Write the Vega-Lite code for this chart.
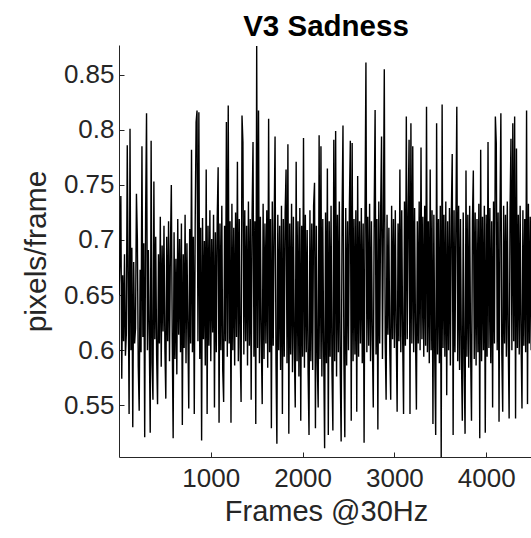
{
"$schema":"https://vega.github.io/schema/vega-lite/v6.json",
"autosize":{"type":"none"},
"padding":{"left":119,"top":45,"right":0,"bottom":81},
"width":414,"height":412,
"background":"white",
"view":{"stroke":null},
"title":{"text":"V3 Sadness","font":"Liberation Sans","fontSize":29.5,"fontWeight":"bold","color":"#000000","anchor":"middle","offset":3},
"data":{"values":[
{"f":0,"v":0.650},{"f":10,"v":0.680},{"f":20,"v":0.740},{"f":30,"v":0.574},{"f":40,"v":0.668},{"f":50,"v":0.608},{"f":60,"v":0.687},{"f":70,"v":0.595},{"f":80,"v":0.615},{"f":90,"v":0.786},
{"f":100,"v":0.665},{"f":110,"v":0.542},{"f":120,"v":0.801},{"f":130,"v":0.600},{"f":140,"v":0.693},{"f":150,"v":0.530},{"f":160,"v":0.680},{"f":170,"v":0.606},{"f":180,"v":0.620},{"f":190,"v":0.742},
{"f":200,"v":0.701},{"f":210,"v":0.585},{"f":220,"v":0.545},{"f":230,"v":0.673},{"f":240,"v":0.598},{"f":250,"v":0.785},{"f":260,"v":0.612},{"f":270,"v":0.697},{"f":280,"v":0.521},{"f":290,"v":0.723},
{"f":300,"v":0.815},{"f":310,"v":0.600},{"f":320,"v":0.691},{"f":330,"v":0.613},{"f":340,"v":0.525},{"f":350,"v":0.790},{"f":360,"v":0.588},{"f":370,"v":0.555},{"f":380,"v":0.753},{"f":390,"v":0.610},
{"f":400,"v":0.703},{"f":410,"v":0.595},{"f":420,"v":0.551},{"f":430,"v":0.687},{"f":440,"v":0.606},{"f":450,"v":0.721},{"f":460,"v":0.585},{"f":470,"v":0.695},{"f":480,"v":0.617},{"f":490,"v":0.713},
{"f":500,"v":0.602},{"f":510,"v":0.556},{"f":520,"v":0.703},{"f":530,"v":0.608},{"f":540,"v":0.717},{"f":550,"v":0.590},{"f":560,"v":0.691},{"f":570,"v":0.750},{"f":580,"v":0.610},{"f":590,"v":0.520},
{"f":600,"v":0.707},{"f":610,"v":0.592},{"f":620,"v":0.683},{"f":630,"v":0.578},{"f":640,"v":0.719},{"f":650,"v":0.614},{"f":660,"v":0.701},{"f":670,"v":0.598},{"f":680,"v":0.715},{"f":690,"v":0.532},
{"f":700,"v":0.687},{"f":710,"v":0.602},{"f":720,"v":0.723},{"f":730,"v":0.588},{"f":740,"v":0.697},{"f":750,"v":0.620},{"f":760,"v":0.547},{"f":770,"v":0.710},{"f":780,"v":0.606},{"f":790,"v":0.782},
{"f":800,"v":0.598},{"f":810,"v":0.703},{"f":820,"v":0.542},{"f":830,"v":0.715},{"f":840,"v":0.807},{"f":850,"v":0.8175},{"f":860,"v":0.608},{"f":870,"v":0.816},{"f":880,"v":0.592},{"f":890,"v":0.711},
{"f":900,"v":0.518},{"f":910,"v":0.720},{"f":920,"v":0.610},{"f":930,"v":0.699},{"f":940,"v":0.586},{"f":950,"v":0.764},{"f":960,"v":0.542},{"f":970,"v":0.713},{"f":980,"v":0.604},{"f":990,"v":0.727},
{"f":1000,"v":0.590},{"f":1010,"v":0.701},{"f":1020,"v":0.616},{"f":1030,"v":0.723},{"f":1040,"v":0.548},{"f":1050,"v":0.707},{"f":1060,"v":0.598},{"f":1070,"v":0.719},{"f":1080,"v":0.766},{"f":1090,"v":0.534},
{"f":1100,"v":0.715},{"f":1110,"v":0.600},{"f":1120,"v":0.731},{"f":1130,"v":0.582},{"f":1140,"v":0.553},{"f":1150,"v":0.713},{"f":1160,"v":0.608},{"f":1170,"v":0.807},{"f":1180,"v":0.594},{"f":1190,"v":0.822},
{"f":1200,"v":0.606},{"f":1210,"v":0.717},{"f":1220,"v":0.534},{"f":1230,"v":0.733},{"f":1240,"v":0.600},{"f":1250,"v":0.711},{"f":1260,"v":0.586},{"f":1270,"v":0.725},{"f":1280,"v":0.612},{"f":1290,"v":0.771},
{"f":1300,"v":0.590},{"f":1310,"v":0.719},{"f":1320,"v":0.602},{"f":1330,"v":0.553},{"f":1340,"v":0.813},{"f":1350,"v":0.789},{"f":1360,"v":0.596},{"f":1370,"v":0.727},{"f":1380,"v":0.608},{"f":1390,"v":0.713},
{"f":1400,"v":0.586},{"f":1410,"v":0.735},{"f":1420,"v":0.604},{"f":1430,"v":0.719},{"f":1440,"v":0.555},{"f":1450,"v":0.723},{"f":1460,"v":0.789},{"f":1470,"v":0.594},{"f":1480,"v":0.717},{"f":1490,"v":0.533},
{"f":1500,"v":0.876},{"f":1510,"v":0.602},{"f":1520,"v":0.8175},{"f":1530,"v":0.588},{"f":1540,"v":0.721},{"f":1550,"v":0.610},{"f":1560,"v":0.551},{"f":1570,"v":0.733},{"f":1580,"v":0.592},{"f":1590,"v":0.715},
{"f":1600,"v":0.606},{"f":1610,"v":0.727},{"f":1620,"v":0.584},{"f":1630,"v":0.810},{"f":1640,"v":0.598},{"f":1650,"v":0.719},{"f":1660,"v":0.529},{"f":1670,"v":0.735},{"f":1680,"v":0.604},{"f":1690,"v":0.711},
{"f":1700,"v":0.794},{"f":1710,"v":0.590},{"f":1720,"v":0.515},{"f":1730,"v":0.723},{"f":1740,"v":0.600},{"f":1750,"v":0.713},{"f":1760,"v":0.582},{"f":1770,"v":0.731},{"f":1780,"v":0.542},{"f":1790,"v":0.719},
{"f":1800,"v":0.594},{"f":1810,"v":0.725},{"f":1820,"v":0.764},{"f":1830,"v":0.588},{"f":1840,"v":0.787},{"f":1850,"v":0.524},{"f":1860,"v":0.715},{"f":1870,"v":0.596},{"f":1880,"v":0.733},{"f":1890,"v":0.580},
{"f":1900,"v":0.721},{"f":1910,"v":0.602},{"f":1920,"v":0.548},{"f":1930,"v":0.771},{"f":1940,"v":0.590},{"f":1950,"v":0.717},{"f":1960,"v":0.576},{"f":1970,"v":0.729},{"f":1980,"v":0.536},{"f":1990,"v":0.713},
{"f":2000,"v":0.594},{"f":2010,"v":0.7925},{"f":2020,"v":0.584},{"f":2030,"v":0.723},{"f":2040,"v":0.598},{"f":2050,"v":0.709},{"f":2060,"v":0.580},{"f":2070,"v":0.523},{"f":2080,"v":0.727},{"f":2090,"v":0.590},
{"f":2100,"v":0.715},{"f":2110,"v":0.582},{"f":2120,"v":0.731},{"f":2130,"v":0.752},{"f":2140,"v":0.529},{"f":2150,"v":0.713},{"f":2160,"v":0.588},{"f":2170,"v":0.548},{"f":2180,"v":0.795},{"f":2190,"v":0.592},
{"f":2200,"v":0.785},{"f":2210,"v":0.576},{"f":2220,"v":0.719},{"f":2230,"v":0.596},{"f":2240,"v":0.511},{"f":2250,"v":0.725},{"f":2260,"v":0.588},{"f":2270,"v":0.765},{"f":2280,"v":0.523},{"f":2290,"v":0.717},
{"f":2300,"v":0.594},{"f":2310,"v":0.731},{"f":2320,"v":0.582},{"f":2330,"v":0.527},{"f":2340,"v":0.791},{"f":2350,"v":0.590},{"f":2360,"v":0.799},{"f":2370,"v":0.576},{"f":2380,"v":0.723},{"f":2390,"v":0.598},
{"f":2400,"v":0.735},{"f":2410,"v":0.584},{"f":2420,"v":0.517},{"f":2430,"v":0.721},{"f":2440,"v":0.804},{"f":2450,"v":0.592},{"f":2460,"v":0.521},{"f":2470,"v":0.729},{"f":2480,"v":0.586},{"f":2490,"v":0.717},
{"f":2500,"v":0.600},{"f":2510,"v":0.733},{"f":2520,"v":0.790},{"f":2530,"v":0.536},{"f":2540,"v":0.788},{"f":2550,"v":0.590},{"f":2560,"v":0.719},{"f":2570,"v":0.596},{"f":2580,"v":0.727},{"f":2590,"v":0.544},
{"f":2600,"v":0.758},{"f":2610,"v":0.594},{"f":2620,"v":0.717},{"f":2630,"v":0.606},{"f":2640,"v":0.729},{"f":2650,"v":0.588},{"f":2660,"v":0.715},{"f":2670,"v":0.516},{"f":2680,"v":0.723},{"f":2690,"v":0.861},
{"f":2700,"v":0.598},{"f":2710,"v":0.721},{"f":2720,"v":0.604},{"f":2730,"v":0.733},{"f":2740,"v":0.590},{"f":2750,"v":0.717},{"f":2760,"v":0.608},{"f":2770,"v":0.548},{"f":2780,"v":0.725},{"f":2790,"v":0.818},
{"f":2800,"v":0.596},{"f":2810,"v":0.719},{"f":2820,"v":0.528},{"f":2830,"v":0.735},{"f":2840,"v":0.606},{"f":2850,"v":0.723},{"f":2860,"v":0.794},{"f":2870,"v":0.592},{"f":2880,"v":0.715},{"f":2890,"v":0.855},
{"f":2900,"v":0.608},{"f":2910,"v":0.555},{"f":2920,"v":0.723},{"f":2930,"v":0.614},{"f":2940,"v":0.711},{"f":2950,"v":0.600},{"f":2960,"v":0.555},{"f":2970,"v":0.731},{"f":2980,"v":0.610},{"f":2990,"v":0.719},
{"f":3000,"v":0.602},{"f":3010,"v":0.727},{"f":3020,"v":0.616},{"f":3030,"v":0.544},{"f":3040,"v":0.715},{"f":3050,"v":0.608},{"f":3060,"v":0.764},{"f":3070,"v":0.598},{"f":3080,"v":0.727},{"f":3090,"v":0.612},
{"f":3100,"v":0.542},{"f":3110,"v":0.735},{"f":3120,"v":0.604},{"f":3130,"v":0.812},{"f":3140,"v":0.610},{"f":3150,"v":0.723},{"f":3160,"v":0.791},{"f":3170,"v":0.542},{"f":3180,"v":0.806},{"f":3190,"v":0.606},
{"f":3200,"v":0.785},{"f":3210,"v":0.598},{"f":3220,"v":0.729},{"f":3230,"v":0.614},{"f":3240,"v":0.546},{"f":3250,"v":0.717},{"f":3260,"v":0.606},{"f":3270,"v":0.735},{"f":3280,"v":0.600},{"f":3290,"v":0.784},
{"f":3300,"v":0.610},{"f":3310,"v":0.721},{"f":3320,"v":0.594},{"f":3330,"v":0.731},{"f":3340,"v":0.604},{"f":3350,"v":0.821},{"f":3360,"v":0.598},{"f":3370,"v":0.717},{"f":3380,"v":0.588},{"f":3390,"v":0.764},
{"f":3400,"v":0.600},{"f":3410,"v":0.727},{"f":3420,"v":0.533},{"f":3430,"v":0.723},{"f":3440,"v":0.592},{"f":3450,"v":0.523},{"f":3460,"v":0.806},{"f":3470,"v":0.596},{"f":3480,"v":0.719},{"f":3490,"v":0.588},
{"f":3500,"v":0.731},{"f":3510,"v":0.503},{"f":3520,"v":0.823},{"f":3530,"v":0.602},{"f":3540,"v":0.723},{"f":3550,"v":0.594},{"f":3560,"v":0.735},{"f":3570,"v":0.559},{"f":3580,"v":0.717},{"f":3590,"v":0.600},
{"f":3600,"v":0.729},{"f":3610,"v":0.586},{"f":3620,"v":0.721},{"f":3630,"v":0.778},{"f":3640,"v":0.523},{"f":3650,"v":0.727},{"f":3660,"v":0.598},{"f":3670,"v":0.715},{"f":3680,"v":0.821},{"f":3690,"v":0.590},
{"f":3700,"v":0.731},{"f":3710,"v":0.582},{"f":3720,"v":0.719},{"f":3730,"v":0.596},{"f":3740,"v":0.536},{"f":3750,"v":0.725},{"f":3760,"v":0.588},{"f":3770,"v":0.524},{"f":3780,"v":0.763},{"f":3790,"v":0.594},
{"f":3800,"v":0.723},{"f":3810,"v":0.584},{"f":3820,"v":0.731},{"f":3830,"v":0.600},{"f":3840,"v":0.536},{"f":3850,"v":0.717},{"f":3860,"v":0.763},{"f":3870,"v":0.592},{"f":3880,"v":0.725},{"f":3890,"v":0.586},
{"f":3900,"v":0.719},{"f":3910,"v":0.598},{"f":3920,"v":0.733},{"f":3930,"v":0.520},{"f":3940,"v":0.782},{"f":3950,"v":0.590},{"f":3960,"v":0.721},{"f":3970,"v":0.600},{"f":3980,"v":0.731},{"f":3990,"v":0.525},
{"f":4000,"v":0.723},{"f":4010,"v":0.594},{"f":4020,"v":0.789},{"f":4030,"v":0.602},{"f":4040,"v":0.729},{"f":4050,"v":0.588},{"f":4060,"v":0.717},{"f":4070,"v":0.548},{"f":4080,"v":0.735},{"f":4090,"v":0.606},
{"f":4100,"v":0.812},{"f":4110,"v":0.788},{"f":4120,"v":0.600},{"f":4130,"v":0.725},{"f":4140,"v":0.535},{"f":4150,"v":0.719},{"f":4160,"v":0.815},{"f":4170,"v":0.598},{"f":4180,"v":0.544},{"f":4190,"v":0.731},
{"f":4200,"v":0.606},{"f":4210,"v":0.723},{"f":4220,"v":0.594},{"f":4230,"v":0.735},{"f":4240,"v":0.610},{"f":4250,"v":0.538},{"f":4260,"v":0.727},{"f":4270,"v":0.792},{"f":4280,"v":0.600},{"f":4290,"v":0.806},
{"f":4300,"v":0.608},{"f":4310,"v":0.812},{"f":4320,"v":0.538},{"f":4330,"v":0.783},{"f":4340,"v":0.602},{"f":4350,"v":0.723},{"f":4360,"v":0.596},{"f":4370,"v":0.731},{"f":4380,"v":0.610},{"f":4390,"v":0.547},
{"f":4400,"v":0.727},{"f":4410,"v":0.604},{"f":4420,"v":0.719},{"f":4430,"v":0.598},{"f":4440,"v":0.8175},{"f":4450,"v":0.551},{"f":4460,"v":0.733},{"f":4470,"v":0.606},{"f":4480,"v":0.721},{"f":4490,"v":0.600},
{"f":4500,"v":0.729},{"f":4510,"v":0.608}
]},
"mark":{"type":"line","color":"#000000","strokeWidth":1.4,"clip":true},
"encoding":{
"x":{"field":"f","type":"quantitative","scale":{"domain":[0,4510],"nice":false,"zero":false},
"axis":{"title":"Frames @30Hz","values":[1000,2000,3000,4000],"format":"d","grid":false,
"domainColor":"#262626","domainWidth":1,"tickColor":"#262626","tickSize":-5,"labelPadding":13,
"labelFont":"Liberation Sans","labelFontSize":26,"labelColor":"#262626","labelFlush":false,
"titleFont":"Liberation Sans","titleFontSize":29,"titleFontWeight":"normal","titleColor":"#262626","titlePadding":6}},
"y":{"field":"v","type":"quantitative","scale":{"domain":[0.503,0.877],"nice":false,"zero":false},
"axis":{"title":"pixels/frame","values":[0.55,0.6,0.65,0.7,0.75,0.8,0.85],"format":".2~f","grid":false,
"domainColor":"#262626","domainWidth":1,"tickColor":"#262626","tickSize":-5,"labelPadding":10,
"labelFont":"Liberation Sans","labelFontSize":26,"labelColor":"#262626","labelFlush":false,
"titleFont":"Liberation Sans","titleFontSize":30,"titleFontWeight":"normal","titleColor":"#262626","titlePadding":12}}
}
}
